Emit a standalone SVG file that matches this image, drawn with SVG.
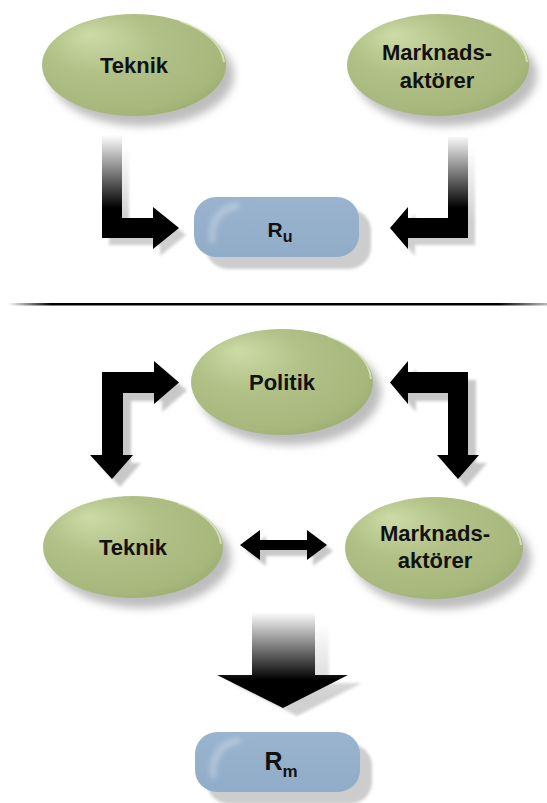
<svg xmlns="http://www.w3.org/2000/svg" width="547" height="803" viewBox="0 0 547 803">
<defs>
<style>
.lbl{font-family:"Liberation Sans",Arial,sans-serif;font-weight:bold;font-size:22px;fill:#111;text-anchor:middle}
.ell{fill:url(#gEll)}
.rim{fill:none;stroke:#f2f7e0;stroke-opacity:.6;stroke-width:2}
.esh{fill:#bdbdbd;filter:url(#blur)}
.box{fill:url(#gBox)}
.bsh{fill:#cdcdcd;filter:url(#blurS)}
.shine{fill:none;stroke:#fff;stroke-opacity:.25;stroke-width:7;stroke-linecap:round;filter:url(#blurM)}
.arr{fill:#000}
.ash{fill:#c8c8c8;filter:url(#blurS)}
.sub{font-size:16px}
</style>
<filter id="blur" x="-20%" y="-20%" width="140%" height="140%"><feGaussianBlur stdDeviation="4"/></filter>
<filter id="blurS" x="-20%" y="-20%" width="140%" height="140%"><feGaussianBlur stdDeviation="1.5"/></filter>
<filter id="blurM" x="-50%" y="-50%" width="200%" height="200%"><feGaussianBlur stdDeviation="2.5"/></filter>
<radialGradient id="gEll" cx="0.42" cy="0.4" r="0.68" fx="0.25" fy="0.2">
<stop offset="0" stop-color="#cddba6"/>
<stop offset="0.45" stop-color="#b0c086"/>
<stop offset="0.85" stop-color="#a8b87d"/>
<stop offset="1" stop-color="#9aab6f"/>
</radialGradient>
<linearGradient id="gBox" x1="0" y1="0" x2="0" y2="1">
<stop offset="0" stop-color="#9ab4cf"/>
<stop offset="1" stop-color="#91acc8"/>
</linearGradient>
<linearGradient id="gSep" x1="8" y1="0" x2="547" y2="0" gradientUnits="userSpaceOnUse">
<stop offset="0" stop-color="#fff"/>
<stop offset="0.08" stop-color="#000"/>
<stop offset="0.91" stop-color="#000"/>
<stop offset="1" stop-color="#bbb"/>
</linearGradient>
<linearGradient id="gA1" x1="0" y1="135" x2="0" y2="208" gradientUnits="userSpaceOnUse">
<stop offset="0" stop-color="#fff"/>
<stop offset="1" stop-color="#000"/>
</linearGradient>
<linearGradient id="gA1s" x1="0" y1="140" x2="0" y2="215" gradientUnits="userSpaceOnUse">
<stop offset="0" stop-color="#fff"/>
<stop offset="1" stop-color="#cfcfcf"/>
</linearGradient>
<linearGradient id="gA2" x1="0" y1="612" x2="0" y2="680" gradientUnits="userSpaceOnUse">
<stop offset="0" stop-color="#fff"/>
<stop offset="1" stop-color="#000"/>
</linearGradient>
<linearGradient id="gA2s" x1="0" y1="615" x2="0" y2="690" gradientUnits="userSpaceOnUse">
<stop offset="0" stop-color="#fff"/>
<stop offset="1" stop-color="#d0d0d0"/>
</linearGradient>
</defs>
<rect width="547" height="803" fill="#fff"/>

<g id="connectors">
<path fill="url(#gA1s)" filter="url(#blurS)" transform="translate(7,7)" d="M102,135 L122,135 L122,218 L153,218 L153,207 L179,228 L153,249 L153,238 L102,238 Z"/>
<path fill="url(#gA1)" d="M102,135 L122,135 L122,218 L153,218 L153,207 L179,228 L153,249 L153,238 L102,238 Z"/>
<path fill="url(#gA1s)" filter="url(#blurS)" transform="translate(7,7)" d="M448,137 L468,137 L468,238 L408,238 L408,249 L390,228 L408,207 L408,218 L448,218 Z"/>
<path fill="url(#gA1)" d="M448,137 L468,137 L468,238 L408,238 L408,249 L390,228 L408,207 L408,218 L448,218 Z"/>
<rect x="8" y="303" width="539" height="2.5" fill="url(#gSep)"/>
<path class="ash" transform="translate(8,8)" d="M102,372 L154,372 L154,361 L179,382.5 L154,404 L154,393 L123,393 L123,455 L133,455 L112,479 L90,455 L102,455 Z"/>
<path class="arr" d="M102,372 L154,372 L154,361 L179,382.5 L154,404 L154,393 L123,393 L123,455 L133,455 L112,479 L90,455 L102,455 Z"/>
<path class="ash" transform="translate(8,8)" d="M468,372 L408,372 L408,361 L390,382.5 L408,404 L408,393 L448,393 L448,455 L437,455 L458,479 L479,455 L468,455 Z"/>
<path class="arr" d="M468,372 L408,372 L408,361 L390,382.5 L408,404 L408,393 L448,393 L448,455 L437,455 L458,479 L479,455 L468,455 Z"/>
<path class="ash" transform="translate(6,6)" d="M240,545 L260,530 L260,540 L307,540 L307,530 L327,545 L307,560 L307,550 L260,550 L260,560 Z"/>
<path class="arr" d="M240,545 L260,530 L260,540 L307,540 L307,530 L327,545 L307,560 L307,550 L260,550 L260,560 Z"/>
<path fill="url(#gA2s)" filter="url(#blurS)" transform="translate(14,8)" d="M252,612 L315,612 L315,675 L348,675 L283,708 L217,675 L252,675 Z"/>
<path fill="url(#gA2)" d="M252,612 L315,612 L315,675 L348,675 L283,708 L217,675 L252,675 Z"/>
</g>

<g id="teknik-top">
<ellipse class="esh" cx="142" cy="75" rx="92" ry="51"/>
<ellipse class="ell" cx="134" cy="65" rx="92" ry="51"/>
<path class="rim" d="M180,21 A92,51 0 0 1 224,62"/>
<text class="lbl" x="134" y="73">Teknik</text>
</g>

<g id="marknad-top">
<ellipse class="esh" cx="446" cy="75" rx="91" ry="51"/>
<ellipse class="ell" cx="438" cy="65" rx="91" ry="51"/>
<path class="rim" d="M484,21 A91,51 0 0 1 527,62"/>
<text class="lbl" x="437" y="60">Marknads-</text>
<text class="lbl" x="437" y="88">aktörer</text>
</g>

<g id="ru">
<rect class="bsh" x="206" y="209" width="165" height="60" rx="22"/>
<rect class="box" x="194" y="197" width="165" height="60" rx="22"/>
<path class="shine" d="M212,240 Q211,211 236,206"/>
<text class="lbl" x="280" y="237" style="font-size:21px">R<tspan class="sub" dy="5">u</tspan></text>
</g>

<g id="politik">
<ellipse class="esh" cx="290" cy="392" rx="91" ry="53"/>
<ellipse class="ell" cx="282" cy="382" rx="91" ry="53"/>
<path class="rim" d="M328,336 A91,53 0 0 1 371,379"/>
<text class="lbl" x="282" y="390">Politik</text>
</g>

<g id="teknik-bottom">
<ellipse class="esh" cx="141" cy="557" rx="90" ry="51"/>
<ellipse class="ell" cx="133" cy="547" rx="90" ry="51"/>
<path class="rim" d="M178,503 A90,51 0 0 1 221,544"/>
<text class="lbl" x="133" y="555">Teknik</text>
</g>

<g id="marknad-bottom">
<ellipse class="esh" cx="442" cy="558" rx="89" ry="51"/>
<ellipse class="ell" cx="434" cy="548" rx="89" ry="51"/>
<path class="rim" d="M479,504 A89,51 0 0 1 521,545"/>
<text class="lbl" x="435" y="541">Marknads-</text>
<text class="lbl" x="435" y="568">aktörer</text>
</g>

<g id="rm">
<rect class="bsh" x="207" y="744" width="165" height="60" rx="22"/>
<rect class="box" x="195" y="732" width="165" height="60" rx="22"/>
<path class="shine" d="M213,775 Q212,746 237,741"/>
<text class="lbl" x="281" y="770" style="font-size:25px">R<tspan class="sub" style="font-size:17px" dy="7">m</tspan></text>
</g>
</svg>
